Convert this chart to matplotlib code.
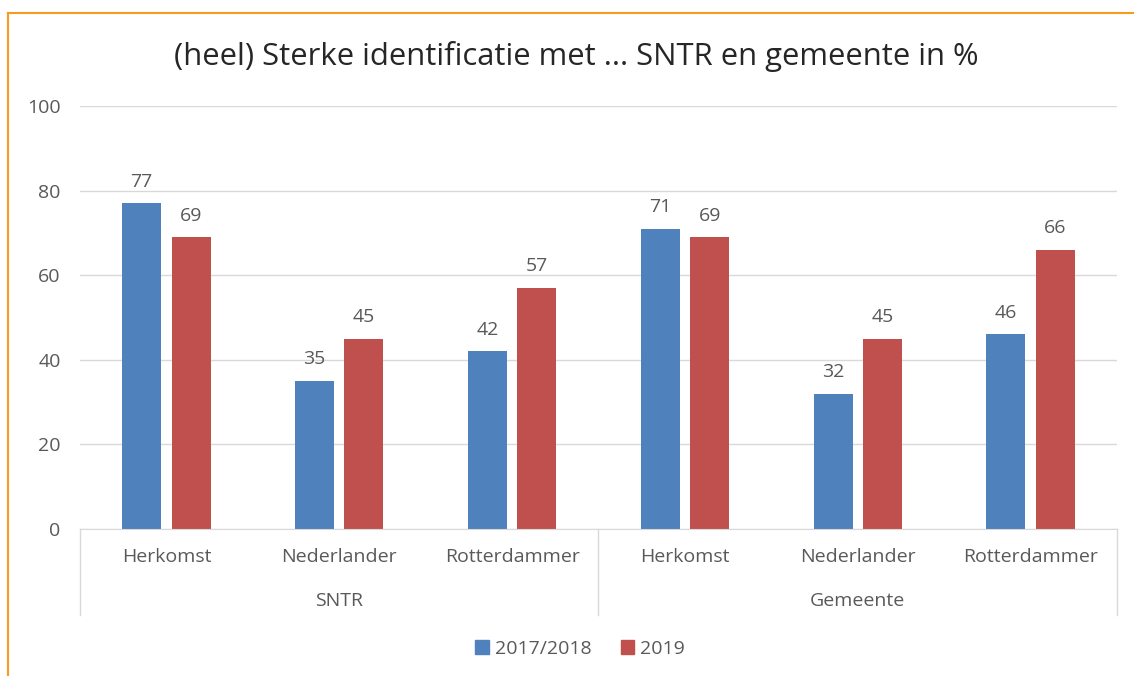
import matplotlib
matplotlib.use("Agg")
import matplotlib.pyplot as plt
from matplotlib.patches import Rectangle
from matplotlib.lines import Line2D
import numpy as np

plt.rcParams['font.family'] = ['Open Sans', 'DejaVu Sans']

title = "(heel) Sterke identificatie met ... SNTR en gemeente in %"
groups = ["SNTR", "Gemeente"]
categories = ["Herkomst", "Nederlander", "Rotterdammer"]
series_names = ["2017/2018", "2019"]
values_2017 = [77, 35, 42, 71, 32, 46]
values_2019 = [69, 45, 57, 69, 45, 66]
colors = ["#4f81bd", "#c0504d"]
yticks = [0, 20, 40, 60, 80, 100]

W, H = 1134, 676
fig = plt.figure(figsize=(W / 100, H / 100), dpi=100)
ax = fig.add_axes([80 / W, 1 - 529 / H, (1117 - 80) / W, (529 - 106) / H])

FS = 14
n = len(groups) * len(categories)
x = np.arange(n)
bw = 0.226
off = 0.143
b1 = ax.bar(x - off, values_2017, bw, color=colors[0], label=series_names[0], zorder=3)
b2 = ax.bar(x + off, values_2019, bw, color=colors[1], label=series_names[1], zorder=3)
for bars, vals in ((b1, values_2017), (b2, values_2019)):
    for r, v in zip(bars, vals):
        ax.annotate(str(v), (r.get_x() + r.get_width() / 2, v), xytext=(0, 9),
                    textcoords="offset points", ha="center", va="bottom",
                    fontsize=FS, color="#595959")

ax.set_xlim(-0.5, n - 0.5)
ax.set_ylim(0, 100)
ax.set_yticks(yticks)
ax.set_yticklabels([str(t) for t in yticks], fontsize=FS, color="#595959")
ax.tick_params(axis='y', length=0, pad=14)
ax.yaxis.grid(True, color="#d9d9d9", linewidth=1, zorder=0)
ax.set_axisbelow(True)
for s in ["top", "right", "left"]:
    ax.spines[s].set_visible(False)
ax.spines["bottom"].set_color("#d9d9d9")
ax.spines["bottom"].set_zorder(4)
ax.set_xticks([])

trans = ax.get_xaxis_transform()
for i in range(n):
    ax.text(x[i], -(557 - 529) / (529 - 106), categories[i % len(categories)], transform=trans,
            ha="center", va="center", fontsize=FS, color="#595959")
for g, name in enumerate(groups):
    c = g * len(categories) + (len(categories) - 1) / 2
    ax.text(c, -(601 - 529) / (529 - 106), name, transform=trans, ha="center", va="center",
            fontsize=FS, color="#595959")
for g in range(len(groups) + 1):
    xb = g * len(categories) - 0.5
    ax.add_line(Line2D([xb, xb], [0, -(615 - 529) / (529 - 106)], transform=trans,
                       color="#d9d9d9", linewidth=1, clip_on=False))

fig.text(576 / W, 1 - 56 / H, title, ha="center", va="center",
         fontsize=22.3, color="#262626")

handles = [Rectangle((0, 0), 1, 1, color=c) for c in colors]
fig.legend(handles, series_names, loc="center", bbox_to_anchor=(580 / W, 1 - 649 / H),
           ncol=2, frameon=False, fontsize=FS, handlelength=0.7, handleheight=0.7,
           handletextpad=0.3, columnspacing=1.5, labelcolor="#595959")

# outer border
fig.add_artist(Line2D([8 / W, 8 / W], [0, 1 - 13 / H], transform=fig.transFigure,
                      color="#f79a1e", linewidth=1.5))
fig.add_artist(Line2D([8 / W, 1], [1 - 13 / H, 1 - 13 / H], transform=fig.transFigure,
                      color="#f79a1e", linewidth=1.5))

fig.savefig("out.png", dpi=100)
